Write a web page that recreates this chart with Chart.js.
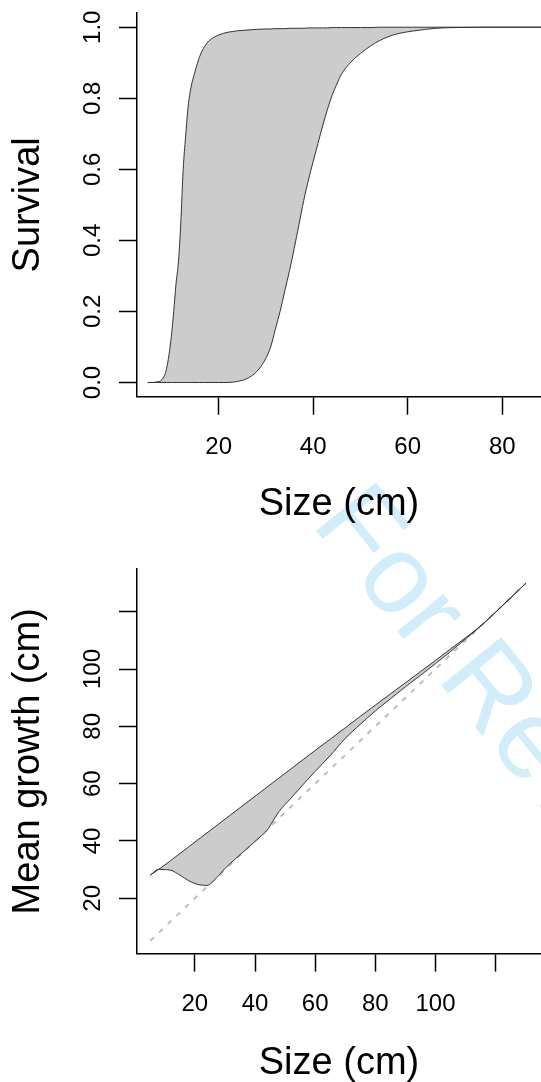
<!DOCTYPE html>
<html>
<head>
<meta charset="utf-8">
<script src="https://cdn.jsdelivr.net/npm/chart.js@4.4.1/dist/chart.umd.min.js"></script>
<style>
    html, body {
        margin: 0;
        padding: 0;
        background: #ffffff;
        width: 541px;
        height: 1082px;
        overflow: hidden;
        position: relative;
        font-family: 'Liberation Sans', Arial, sans-serif;
    }
    #watermark {
        position: absolute;
        left: 311px;
        top: 430px;
        font-size: 112px;
        line-height: 1;
        color: #d2edfa;
        white-space: nowrap;
        transform-origin: 0 93px;
        transform: rotate(51deg);
        z-index: 0;
    }
    canvas { position: absolute; left: 0; z-index: 1; }
    #survivalChart { top: 0; }
    #growthChart { top: 522px; }
</style>
</head>
<body>
<div id="watermark">For Review Only</div>
<canvas id="survivalChart" width="541" height="541"></canvas>
<canvas id="growthChart" width="541" height="580"></canvas>
<script>
// --- Survival panel ---
const sizeS = [5, 6, 7, 8, 9, 10, 10.5, 11, 11.5, 12, 12.5, 13, 13.5, 14, 15, 16, 17, 18,
    20, 22, 23, 24, 26, 28, 30, 31, 32, 33, 34, 35, 36, 37, 38, 39, 40, 41, 42, 43, 44, 45, 46,
    48, 50, 52, 54, 56, 58, 61, 66, 70, 80, 90];
const survHigh = [0, 0, 0.002, 0.008, 0.04, 0.13, 0.2, 0.28, 0.34, 0.45, 0.6, 0.69, 0.77, 0.82, 0.875, 0.918, 0.945, 0.962,
    0.978, 0.986, 0.988, 0.99, 0.992, 0.994, 0.995, 0.995, 0.996, 0.996, 0.996, 0.997, 0.997, 0.997, 0.997, 0.998, 0.998, 0.998, 0.998, 0.998, 0.999, 0.999, 0.999,
    0.999, 0.999, 0.999, 1, 1, 1, 1, 1, 1, 1, 1];
const survLow = [0, 0, 0, 0, 0, 0, 0, 0, 0, 0, 0, 0, 0, 0, 0, 0, 0, 0,
    0, 0, 0.001, 0.003, 0.011, 0.03, 0.068, 0.1, 0.15, 0.2, 0.258, 0.315, 0.378, 0.445, 0.512, 0.57, 0.622, 0.672, 0.722, 0.768, 0.808, 0.84, 0.868,
    0.902, 0.926, 0.946, 0.962, 0.974, 0.982, 0.989, 0.997, 0.999, 1, 1];
const survXTicks = [20, 40, 60, 80];
const survYTicks = [0, 0.2, 0.4, 0.6, 0.8, 1.0];

// --- Growth panel ---
const sizeG = [5.2, 8, 10, 12, 15, 18, 21, 24, 27, 30, 33, 36, 39, 42, 44, 46, 48, 52, 56, 60,
    65, 70, 75, 80, 85, 90, 95, 100, 105, 110, 114, 118, 122, 126, 130];
const growthHigh = [28.1, 30.1, 31.6, 33.2, 35.6, 38.0, 40.4, 42.8, 45.2, 47.6, 50.0, 52.4, 54.8, 57.2, 58.8, 60.4, 62.0, 65.2, 68.4, 71.6,
    75.5, 79.5, 83.5, 87.4, 91.3, 95.2, 99.1, 103.0, 107.0, 110.9, 114.2, 117.9, 121.9, 125.9, 129.9];
const growthLow = [28.1, 30.1, 30.0, 29.8, 28.1, 26.1, 24.8, 24.5, 26.9, 30.4, 33.3, 36.1, 38.9, 41.7, 43.7, 47.0, 50.3, 55.0, 59.7, 64.3,
    69.8, 75.8, 80.7, 85.4, 89.6, 93.8, 97.8, 101.9, 106.1, 110.5, 114.0, 117.8, 121.8, 125.8, 129.9];
const oneToOne = [5.2, 130];
const growthTicks = [20, 40, 60, 80, 100, 120];
const growthLabelled = [20, 40, 60, 80, 100];

const FONT = "'Liberation Sans', Arial, sans-serif";
const LINE = '#333333';
const BAND = '#cccccc';

function toPoints(xs, ys) {
    return xs.map((x, i) => ({ x: x, y: ys[i] }));
}

function panelOptions(cfg) {
    const tickFont = { family: FONT, size: 24 };
    const titleFont = { family: FONT, size: 38, lineHeight: 1 };
    return {
        responsive: false,
        animation: false,
        events: [],
        layout: { padding: { top: cfg.top, left: 0, right: 0, bottom: 0 } },
        plugins: {
            legend: { display: false },
            tooltip: { enabled: false },
            filler: { drawTime: 'beforeDatasetsDraw' }
        },
        scales: {
            x: {
                type: 'linear',
                min: cfg.xMin,
                max: cfg.xMax,
                afterBuildTicks: (s) => { s.ticks = cfg.xTicks.map(v => ({ value: v })); },
                afterFit: (s) => { s.height = cfg.xHeight; s.paddingLeft = 0; s.paddingRight = 0; },
                grid: { display: true, drawOnChartArea: false, drawTicks: true, tickLength: 18, tickWidth: 1.5, tickColor: '#000' },
                border: { display: true, color: '#000', width: 1.5 },
                ticks: {
                    autoSkip: false, maxRotation: 0, minRotation: 0, padding: 18,
                    color: '#000', font: tickFont,
                    callback: cfg.xFmt
                },
                title: {
                    display: true, text: 'Size (cm)', color: '#000', font: titleFont,
                    padding: { top: 0, bottom: cfg.xTitlePad }
                }
            },
            y: {
                type: 'linear',
                min: cfg.yMin,
                max: cfg.yMax,
                afterBuildTicks: (s) => { s.ticks = cfg.yTicks.map(v => ({ value: v })); },
                afterFit: (s) => { s.width = 137; s.paddingTop = 0; s.paddingBottom = 0; },
                grid: { display: true, drawOnChartArea: false, drawTicks: true, tickLength: 18, tickWidth: 1.5, tickColor: '#000' },
                border: { display: true, color: '#000', width: 1.5 },
                ticks: {
                    autoSkip: false, minRotation: 90, maxRotation: 90, crossAlign: 'center',
                    padding: cfg.yTickPad, color: '#000', font: tickFont,
                    callback: cfg.yFmt
                },
                title: {
                    display: true, text: cfg.yLabel, color: '#000', font: titleFont,
                    padding: { top: 9.5, bottom: 0 }
                }
            }
        }
    };
}

new Chart(document.getElementById('survivalChart'), {
    type: 'line',
    data: {
        datasets: [
            {
                data: toPoints(sizeS, survHigh),
                borderColor: LINE, borderWidth: 1, pointRadius: 0,
                cubicInterpolationMode: 'monotone',
                fill: '+1', backgroundColor: BAND
            },
            {
                data: toPoints(sizeS, survLow),
                borderColor: LINE, borderWidth: 1, pointRadius: 0,
                cubicInterpolationMode: 'monotone',
                fill: false
            }
        ]
    },
    options: panelOptions({
        top: 13, xHeight: 541 - 396.7, xTitlePad: 17, yTickPad: 8.8,
        xMin: 2.73, xMax: 88.2, yMin: -0.04, yMax: 1.04,
        xTicks: survXTicks, yTicks: survYTicks,
        xFmt: (v) => String(v),
        yFmt: (v) => Number(v).toFixed(1),
        yLabel: 'Survival'
    })
});

new Chart(document.getElementById('growthChart'), {
    type: 'line',
    data: {
        datasets: [
            {
                data: toPoints(sizeG, growthHigh),
                borderColor: LINE, borderWidth: 1, pointRadius: 0,
                cubicInterpolationMode: 'monotone',
                fill: '+1', backgroundColor: BAND
            },
            {
                data: toPoints(sizeG, growthLow),
                borderColor: LINE, borderWidth: 1, pointRadius: 0,
                cubicInterpolationMode: 'monotone',
                fill: false
            },
            {
                data: toPoints(oneToOne, oneToOne),
                borderColor: '#bdbdbd', borderWidth: 2, borderDash: [5, 7], pointRadius: 0,
                fill: false
            }
        ]
    },
    options: panelOptions({
        top: 47, xHeight: 580 - 431.6, xTitlePad: 19, yTickPad: 5.7,
        xMin: 0.76, xMax: 135.07, yMin: 0.7, yMax: 134.9,
        xTicks: growthTicks, yTicks: growthTicks,
        xFmt: (v) => growthLabelled.includes(v) ? String(v) : '',
        yFmt: (v) => growthLabelled.includes(v) ? String(v) : '',
        yLabel: 'Mean growth (cm)'
    })
});
</script>
</body>
</html>
